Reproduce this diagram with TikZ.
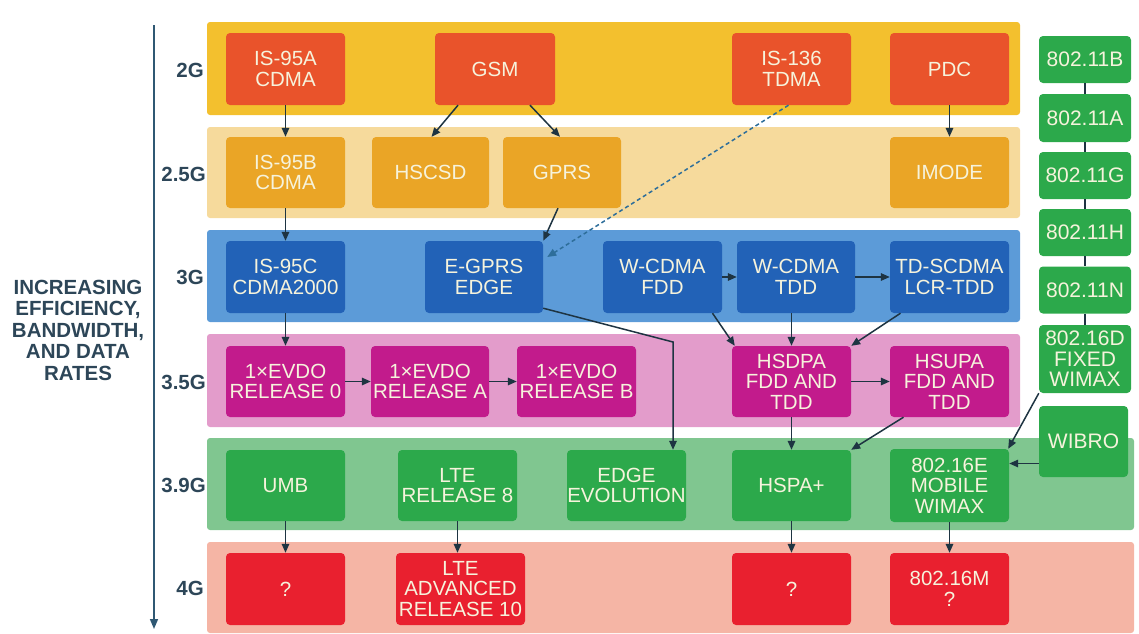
\documentclass[tikz,border=0pt]{standalone}
\usepackage{fontspec}
\setmainfont{Liberation Sans}
\usetikzlibrary{arrows.meta,calc}
\definecolor{bandA}{HTML}{F3C02E}
\definecolor{nodeA}{HTML}{E9532B}
\definecolor{bandB}{HTML}{F6DA9C}
\definecolor{nodeB}{HTML}{EAA526}
\definecolor{bandC}{HTML}{5C9BD8}
\definecolor{nodeC}{HTML}{2262B7}
\definecolor{bandD}{HTML}{E39CCB}
\definecolor{nodeD}{HTML}{C21B8C}
\definecolor{bandE}{HTML}{80C690}
\definecolor{nodeE}{HTML}{2CA94B}
\definecolor{bandF}{HTML}{F5B5A5}
\definecolor{nodeF}{HTML}{E9202F}
\definecolor{nodetxt}{HTML}{F6F3DC}
\definecolor{arrowc}{HTML}{1E3442}
\definecolor{dashc}{HTML}{2E6E9A}
\definecolor{axisc}{HTML}{2F5873}
\definecolor{labc}{HTML}{2D4658}
\begin{document}
\begin{tikzpicture}[x=1pt,y=-1pt,
  band/.style={rounded corners=3pt},
  box/.style={rectangle, rounded corners=4pt, minimum width=119pt, minimum height=72pt,
    inner sep=0pt, text=nodetxt, font=\fontsize{20.5}{20.5}\selectfont, align=center},
  wbox/.style={box, fill=nodeE, minimum width=92pt, minimum height=47pt, font=\fontsize{21}{20.5}\selectfont},
  arr/.style={draw=arrowc, line width=1.5pt, -{Triangle[length=9pt,width=7.5pt]}},
  plain/.style={draw=arrowc, line width=1.5pt},
  glabel/.style={anchor=east, text=labc, font=\fontsize{20.5}{21}\selectfont\bfseries, inner sep=0pt}]
\useasboundingbox (0,0) rectangle (1139,633);
% bands
\fill[band, bandA] (207,22) rectangle (1020,115);
\fill[band, bandB] (207,127) rectangle (1020,218);
\fill[band, bandC] (207,230) rectangle (1020,322);
\fill[band, bandD] (207,334) rectangle (1020,427);
\fill[band, bandE] (207,438) rectangle (1134,530);
\fill[band, bandF] (207,542) rectangle (1134,633);
% axis
\coordinate (axtop) at (154,25);
\coordinate (axbot) at (154,629);
\draw[draw=axisc, line width=1.6pt, -{Triangle[length=10pt,width=8pt]}] (axtop) -- (axbot);
\node[text=labc, align=center, font=\fontsize{20.5}{21.5}\selectfont\bfseries, inner sep=0pt] (axtext) at (78,330)
  {INCREASING\\EFFICIENCY,\\BANDWIDTH,\\AND DATA\\RATES};
% generation labels
\node[glabel] (l2) at (204,70) {2G};
\node[glabel] (l25) at (206,174) {2.5G};
\node[glabel] (l3) at (204,277) {3G};
\node[glabel] (l35) at (206,382) {3.5G};
\node[glabel] (l39) at (206,485) {3.9G};
\node[glabel] (l4) at (204,588) {4G};
% 2G
\node[box, fill=nodeA] (is95a) at (285.5,69) {IS-95A\\CDMA};
\node[box, fill=nodeA, minimum width=120pt] (gsm) at (495,69) {GSM};
\node[box, fill=nodeA] (is136) at (791.5,69) {IS-136\\TDMA};
\node[box, fill=nodeA] (pdc) at (949.5,69) {PDC};
% 2.5G
\node[box, fill=nodeB, minimum height=71pt] (is95b) at (285.5,172.5) {IS-95B\\CDMA};
\node[box, fill=nodeB, minimum width=117pt, minimum height=71pt] (hscsd) at (430.5,172.5) {HSCSD};
\node[box, fill=nodeB, minimum width=118pt, minimum height=71pt] (gprs) at (562,172.5) {GPRS};
\node[box, fill=nodeB, minimum height=71pt] (imode) at (949.5,172.5) {IMODE};
% 3G
\node[box, fill=nodeC] (is95c) at (285.5,277) {IS-95C\\CDMA2000};
\node[box, fill=nodeC, minimum width=118pt] (egprs) at (484,277) {E-GPRS\\EDGE};
\node[box, fill=nodeC] (wfdd) at (662.5,277) {W-CDMA\\FDD};
\node[box, fill=nodeC, minimum width=118pt] (wtdd) at (796,277) {W-CDMA\\TDD};
\node[box, fill=nodeC] (tds) at (949.5,277) {TD-SCDMA\\LCR-TDD};
% 3.5G
\node[box, fill=nodeD, minimum height=71pt] (ev0) at (285.5,381.5) {1×EVDO\\RELEASE 0};
\node[box, fill=nodeD, minimum width=118pt, minimum height=71pt] (eva) at (430,381.5) {1×EVDO\\RELEASE A};
\node[box, fill=nodeD, minimum height=71pt] (evb) at (576.5,381.5) {1×EVDO\\RELEASE B};
\node[box, fill=nodeD, minimum height=71pt] (hsdpa) at (791.5,381.5) {HSDPA\\FDD AND\\TDD};
\node[box, fill=nodeD, minimum height=71pt] (hsupa) at (949.5,381.5) {HSUPA\\FDD AND\\TDD};
% 3.9G
\node[box, fill=nodeE, minimum height=71pt] (umb) at (285.5,485.5) {UMB};
\node[box, fill=nodeE, minimum height=71pt] (lte8) at (457.5,485.5) {LTE\\RELEASE 8};
\node[box, fill=nodeE, minimum height=71pt] (edgeev) at (626.5,485.5) {EDGE\\EVOLUTION};
\node[box, fill=nodeE, minimum height=71pt] (hspap) at (791.5,485.5) {HSPA+};
\node[box, fill=nodeE, minimum height=73pt] (wme) at (949.5,485.5) {802.16E\\MOBILE\\WIMAX};
% 4G
\node[box, fill=nodeF] (q1) at (285.5,589) {?};
\node[box, fill=nodeF, minimum width=129pt] (ltea) at (460.5,589) {LTE\\ADVANCED\\RELEASE 10};
\node[box, fill=nodeF] (q2) at (791.5,589) {?};
\node[box, fill=nodeF] (wmm) at (949.5,589) {802.16M\\?};
% right column
\node[wbox] (w11b) at (1085,59.5) {802.11B};
\node[wbox, minimum height=48pt] (w11a) at (1085,118) {802.11A};
\node[wbox] (w11g) at (1085,175.5) {802.11G};
\node[wbox] (w11h) at (1085,232.5) {802.11H};
\node[wbox] (w11n) at (1085,290) {802.11N};
\node[wbox, minimum height=68pt] (w16d) at (1085,359) {802.16D\\FIXED\\WIMAX};
\node[wbox, minimum width=89pt, minimum height=71pt] (wibro) at (1083.5,441.5) {WIBRO};
% right column lines
\draw[plain] (w11b) -- (w11a);
\draw[plain] (w11a) -- (w11g);
\draw[plain] (w11g) -- (w11h);
\draw[plain] (w11h) -- (w11n);
\draw[plain] (w11n) -- (w16d);
\draw[arr] (w16d.south west) -- ([xshift=-1pt]wme.north east);
\coordinate (wb) at ([yshift=-22pt]wibro.west);
\draw[arr] (wb) -- (wb -| wme.east);
% column 1
\draw[arr] (is95a) -- (is95b);
\draw[arr] (is95b) -- (is95c);
\draw[arr] (is95c) -- (ev0);
\draw[arr] (umb) -- (q1);
\draw[arr] (ev0) -- (eva);
\draw[arr] (eva) -- (evb);
% GSM family
\draw[arr] ([xshift=-37pt]gsm.south) -- ([xshift=1pt]hscsd.north);
\draw[arr] ([xshift=35pt]gsm.south) -- ([xshift=-2pt]gprs.north);
\draw[arr] ([xshift=-4pt]gprs.south) -- (egprs.north east);
\draw[arr, draw=dashc, dashed, dash pattern=on 4pt off 3pt] ([xshift=-3pt]is136.south) -- ([xshift=4pt,yshift=20pt]egprs.east);
\draw[arr] (pdc) -- (imode);
\coordinate (bend) at (673,342);
\draw[arr] ([yshift=5pt]egprs.south east) -- (bend) -- (bend |- edgeev.north);
% W-CDMA family
\draw[arr] (wfdd) -- (wtdd);
\draw[arr] (wtdd) -- (tds);
\draw[arr] ([xshift=50pt]wfdd.south) -- ([xshift=3pt]hsdpa.north west);
\draw[arr] (hsdpa.north |- wtdd.south) -- (hsdpa.north);
\draw[arr] ([xshift=-49pt]tds.south) -- (hsdpa.north east);
\draw[arr] (hsdpa) -- (hsupa);
\draw[arr] (hsdpa) -- (hspap);
\draw[arr] ([xshift=-46pt]hsupa.south) -- (hspap.north east);
\draw[arr] (hspap) -- (q2);
\draw[arr] (wme) -- (wmm);
\draw[arr] (lte8) -- ([xshift=-3pt]ltea.north);
\end{tikzpicture}
\end{document}
